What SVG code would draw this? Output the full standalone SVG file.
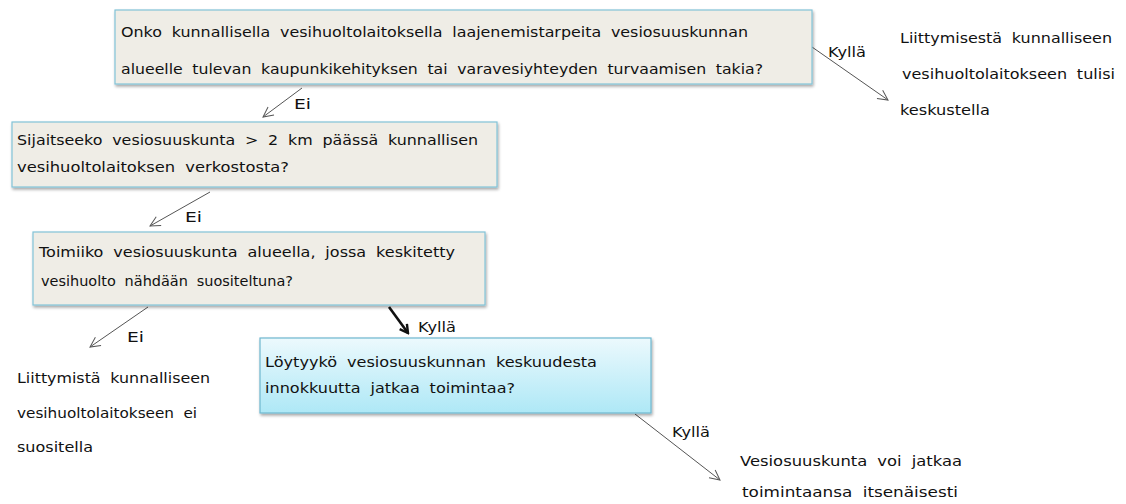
<svg xmlns="http://www.w3.org/2000/svg" width="1126" height="504" viewBox="0 0 1126 504">
  <defs>
    <style>
      .t { font-family: "DejaVu Sans", Verdana, sans-serif; font-size: 13.5px; word-spacing: 4px; fill: #111; }
      .lbl { font-family: "DejaVu Sans", Verdana, sans-serif; font-size: 14px; fill: #111; }
      .box { fill: #efede6; stroke: #82c3d8; stroke-width: 1.2; filter: url(#shadow); }
      .box2 { fill: url(#blue); stroke: #6fb7cf; stroke-width: 1.2; filter: url(#shadow); }
      .ln { stroke: #555; stroke-width: 1; fill: none; marker-end: url(#open); }
      .bold { stroke: #111; stroke-width: 2.6; fill: none; marker-end: url(#openBold); }
    </style>
    <linearGradient id="blue" x1="0" y1="0" x2="0" y2="1">
      <stop offset="0" stop-color="#ecf9fd"/>
      <stop offset="1" stop-color="#aee8f6"/>
    </linearGradient>
    <filter id="shadow" x="-5%" y="-10%" width="110%" height="130%">
      <feGaussianBlur in="SourceAlpha" stdDeviation="1.5"/>
      <feOffset dx="1" dy="2" result="b"/>
      <feComponentTransfer><feFuncA type="linear" slope="0.35"/></feComponentTransfer>
      <feMerge><feMergeNode/><feMergeNode in="SourceGraphic"/></feMerge>
    </filter>
    <marker id="open" viewBox="0 0 12 12" refX="11" refY="6" markerWidth="12" markerHeight="12" markerUnits="userSpaceOnUse" orient="auto">
      <path d="M1,1 L11,6 L1,11" fill="none" stroke="#555" stroke-width="1"/>
    </marker>
    <marker id="openBold" viewBox="0 0 12 12" refX="10" refY="6" markerWidth="12" markerHeight="12" markerUnits="userSpaceOnUse" orient="auto">
      <path d="M2,1.5 L10,6 L2,10.5" fill="none" stroke="#111" stroke-width="2.4"/>
    </marker>
  </defs>

  <rect width="1126" height="504" fill="#ffffff"/>

  <!-- connectors -->
  <g id="connectors">
    <line class="ln" x1="302" y1="88" x2="263" y2="117"/>
    <line class="ln" x1="812" y1="47" x2="888" y2="100"/>
    <line class="ln" x1="210" y1="192" x2="150" y2="226"/>
    <line class="ln" x1="148" y1="307" x2="90" y2="347"/>
    <line class="bold" x1="389" y1="307" x2="408" y2="333"/>
    <line class="ln" x1="635" y1="414" x2="720" y2="480"/>
    <text class="lbl" x="294" y="109" textLength="17" lengthAdjust="spacingAndGlyphs">Ei</text>
    <text class="lbl" x="828" y="57" textLength="38" lengthAdjust="spacingAndGlyphs">Kyllä</text>
    <text class="lbl" x="185" y="222" textLength="17" lengthAdjust="spacingAndGlyphs">Ei</text>
    <text class="lbl" x="127" y="342" textLength="17" lengthAdjust="spacingAndGlyphs">Ei</text>
    <text class="lbl" x="418" y="332" textLength="38" lengthAdjust="spacingAndGlyphs">Kyllä</text>
    <text class="lbl" x="672" y="437" textLength="38" lengthAdjust="spacingAndGlyphs">Kyllä</text>
  </g>

  <!-- question: expansion needs -->
  <g id="q1">
    <rect class="box" x="115" y="10" width="697" height="74"/>
    <text class="t" x="121" y="37" textLength="627" lengthAdjust="spacingAndGlyphs">Onko kunnallisella vesihuoltolaitoksella laajenemistarpeita vesiosuuskunnan</text>
    <text class="t" x="121" y="74" textLength="642" lengthAdjust="spacingAndGlyphs">alueelle tulevan kaupunkikehityksen tai varavesiyhteyden turvaamisen takia?</text>
  </g>

  <!-- question: distance to network -->
  <g id="q2">
    <rect class="box" x="12" y="122" width="485" height="65"/>
    <text class="t" x="17" y="145" textLength="461" lengthAdjust="spacingAndGlyphs">Sijaitseeko vesiosuuskunta &gt; 2 km päässä kunnallisen</text>
    <text class="t" x="17" y="172" textLength="272" lengthAdjust="spacingAndGlyphs">vesihuoltolaitoksen verkostosta?</text>
  </g>

  <!-- question: centralised supply area -->
  <g id="q3">
    <rect class="box" x="33" y="232" width="452" height="73"/>
    <text class="t" x="39" y="257" textLength="416" lengthAdjust="spacingAndGlyphs">Toimiiko vesiosuuskunta alueella, jossa keskitetty</text>
    <text class="t" x="41" y="286" textLength="252" lengthAdjust="spacingAndGlyphs">vesihuolto nähdään suositeltuna?</text>
  </g>

  <!-- question: enthusiasm to continue -->
  <g id="q4">
    <rect class="box2" x="260" y="338" width="391" height="75"/>
    <text class="t" x="265" y="367" textLength="332" lengthAdjust="spacingAndGlyphs">Löytyykö vesiosuuskunnan keskuudesta</text>
    <text class="t" x="265" y="393" textLength="250" lengthAdjust="spacingAndGlyphs">innokkuutta jatkaa toimintaa?</text>
  </g>

  <!-- outcome: discuss joining -->
  <g id="out-discuss">
    <text class="t" x="900" y="43" textLength="212" lengthAdjust="spacingAndGlyphs">Liittymisestä kunnalliseen</text>
    <text class="t" x="902" y="79" textLength="213" lengthAdjust="spacingAndGlyphs">vesihuoltolaitokseen tulisi</text>
    <text class="t" x="900" y="115" textLength="90" lengthAdjust="spacingAndGlyphs">keskustella</text>
  </g>

  <!-- outcome: joining not recommended -->
  <g id="out-not">
    <text class="t" x="17" y="383" textLength="193" lengthAdjust="spacingAndGlyphs">Liittymistä kunnalliseen</text>
    <text class="t" x="17" y="418" textLength="180" lengthAdjust="spacingAndGlyphs">vesihuoltolaitokseen ei</text>
    <text class="t" x="17" y="452" textLength="76" lengthAdjust="spacingAndGlyphs">suositella</text>
  </g>

  <!-- outcome: continue independently -->
  <g id="out-continue">
    <text class="t" x="740" y="466" textLength="222" lengthAdjust="spacingAndGlyphs">Vesiosuuskunta voi jatkaa</text>
    <text class="t" x="742" y="497" textLength="216" lengthAdjust="spacingAndGlyphs">toimintaansa itsenäisesti</text>
  </g>
</svg>
